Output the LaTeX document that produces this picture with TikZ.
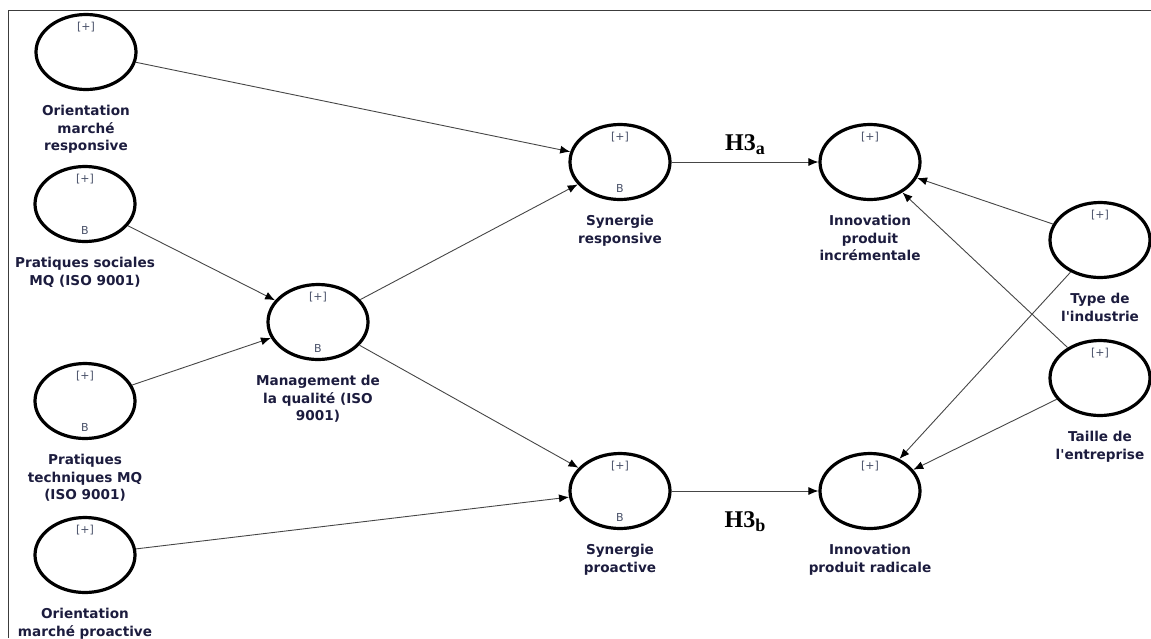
\documentclass[tikz,border=0pt]{standalone}
\usepackage{fontspec}
\setsansfont{DejaVu Sans}[Ligatures=TeXOff]
\newfontfamily\hypfont{Liberation Serif}
\usetikzlibrary{arrows.meta,positioning,shapes.geometric}
\definecolor{LabelNavy}{RGB}{28,28,62}
\definecolor{TagGrey}{RGB}{72,80,104}
\definecolor{PathGrey}{RGB}{70,70,70}
\definecolor{FrameGrey}{RGB}{60,60,60}
\newcommand{\hypsub}[1]{\raisebox{-4pt}{\fontsize{18}{18}\selectfont #1}}
\tikzset{
  latent/.style={ellipse,draw,line width=3.2pt,minimum width=100pt,
    minimum height=75pt,inner sep=0pt},
  tagtxt/.style={font=\sffamily\fontsize{11}{12}\selectfont,text=TagGrey},
  withplus/.style={label={[tagtxt,anchor=center,yshift=-14pt]north:[+]}},
  withB/.style={label={[tagtxt,anchor=center,yshift=13pt]south:B}},
  caption/.style={align=center,inner sep=0pt,text=LabelNavy,
    font=\sffamily\bfseries\fontsize{13.6}{17.5}\selectfont},
  path/.style={->,draw=PathGrey,line width=0.9pt},
  hyp/.style={font=\hypfont\bfseries\fontsize{24}{26}\selectfont}
}

\begin{document}
\begin{tikzpicture}[x=1pt,y=-1pt,>={Latex[length=10pt,width=8pt,color=black]}]
  \useasboundingbox (0,0) rectangle (1151,638);
  \draw[FrameGrey,line width=1.2pt] (8.5,638) -- (8.5,10.5) -- (1151,10.5);

  \node[latent,withplus] (omr) at (86,52) {};
  \node[latent,withplus,withB] (ps) at (85,204) {};
  \node[latent,withplus,withB] (mq) at (318,322) {};
  \node[latent,withplus,withB] (pt) at (85,401) {};
  \node[latent,withplus] (omp) at (85,555) {};
  \node[latent,withplus,withB] (sr) at (620,162) {};
  \node[latent,withplus,withB] (sp) at (620,491) {};
  \node[latent,withplus] (ipi) at (870,162) {};
  \node[latent,withplus] (ipr) at (870,491) {};
  \node[latent,withplus] (ti) at (1100,240) {};
  \node[latent,withplus] (te) at (1100,378) {};

  \node[caption,below=14pt of omr] (omrtxt) {Orientation\\marché\\responsive};
  \node[caption,below=14pt of ps] (pstxt) {Pratiques sociales\\MQ (ISO 9001)};
  \node[caption,below=14pt of mq] (mqtxt) {Management de\\la qualité (ISO\\9001)};
  \node[caption,below=14pt of pt] (pttxt) {Pratiques\\techniques MQ\\(ISO 9001)};
  \node[caption,below=14pt of omp] (omptxt) {Orientation\\marché proactive};
  \node[caption,below=14pt of sr] (srtxt) {Synergie\\responsive};
  \node[caption,below=14pt of sp] (sptxt) {Synergie\\proactive};
  \node[caption,below=14pt of ipi] (ipitxt) {Innovation\\produit\\incrémentale};
  \node[caption,below=14pt of ipr] (iprtxt) {Innovation\\produit radicale};
  \node[caption,below=14pt of ti] (titxt) {Type de\\l'industrie};
  \node[caption,below=14pt of te] (tetxt) {Taille de\\l'entreprise};

  \draw[path] (omr) -- (sr);
  \draw[path] (ps) -- (mq);
  \draw[path] (pt) -- (mq);
  \draw[path] (mq) -- (sr);
  \draw[path] (mq) -- (sp);
  \draw[path] (omp) -- (sp);
  \draw[path] (sr) -- (ipi);
  \draw[path] (sp) -- (ipr);
  \draw[path] (ti) -- (ipi);
  \draw[path] (ti) -- (ipr);
  \draw[path] (te) -- (ipi);
  \draw[path] (te) -- (ipr);

  \node[hyp] (h3a) at (745,145) {H3\hypsub{a}};
  \node[hyp] (h3b) at (745,522) {H3\hypsub{b}};
\end{tikzpicture}
\end{document}
